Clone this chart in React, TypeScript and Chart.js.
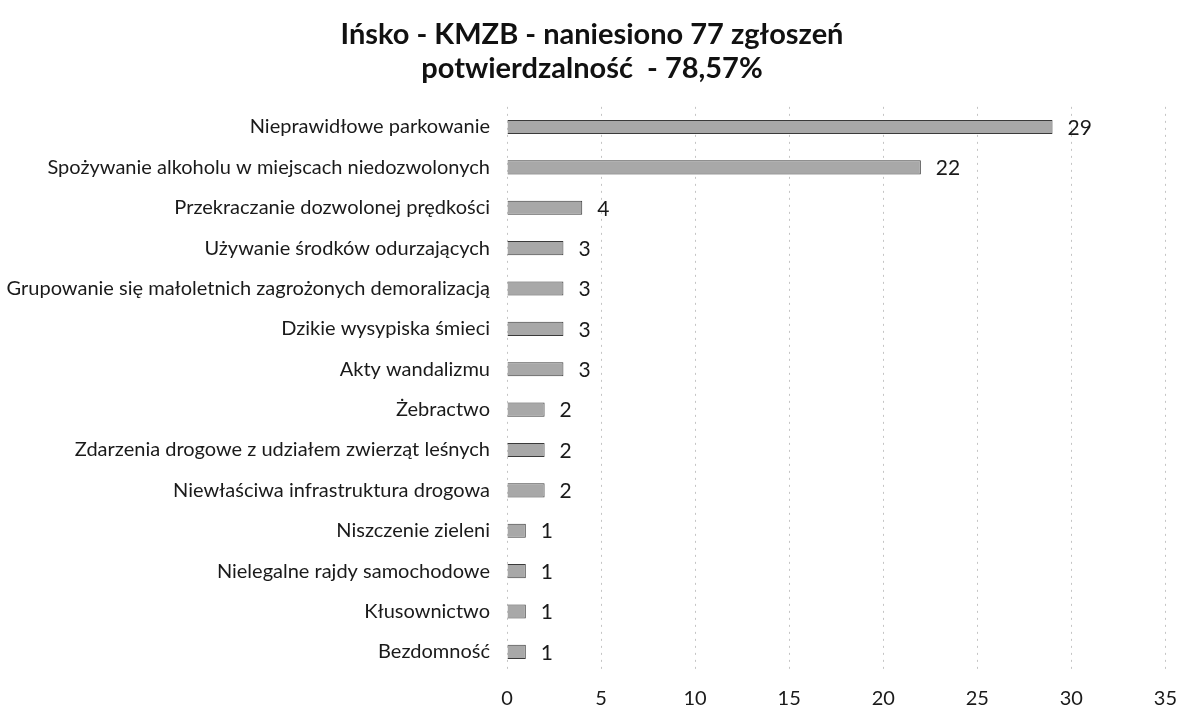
import React, { useEffect, useRef } from "react";
import { Chart, registerables } from "chart.js";

Chart.register(...registerables);

const categories = [
  "Nieprawidłowe parkowanie",
  "Spożywanie alkoholu w miejscach niedozwolonych",
  "Przekraczanie dozwolonej prędkości",
  "Używanie środków odurzających",
  "Grupowanie się małoletnich zagrożonych demoralizacją",
  "Dzikie wysypiska śmieci",
  "Akty wandalizmu",
  "Żebractwo",
  "Zdarzenia drogowe z udziałem zwierząt leśnych",
  "Niewłaściwa infrastruktura drogowa",
  "Niszczenie zieleni",
  "Nielegalne rajdy samochodowe",
  "Kłusownictwo",
  "Bezdomność",
];
const values = [29, 22, 4, 3, 3, 3, 3, 2, 2, 2, 1, 1, 1, 1];
const titleLines = ["Ińsko - KMZB - naniesiono 77 zgłoszeń", "potwierdzalność  - 78,57%"];

const FONT = "Lato, 'Open Sans', sans-serif";

const valueLabels = {
  id: "valueLabels",
  afterDatasetsDraw(chart: any) {
    const ctx = chart.ctx;
    const meta = chart.getDatasetMeta(0);
    ctx.save();
    ctx.font = `21px ${FONT}`;
    ctx.fillStyle = "#1a1a1a";
    ctx.textAlign = "left";
    ctx.textBaseline = "middle";
    meta.data.forEach((bar: any, i: number) => {
      ctx.fillText(String(values[i]), bar.x + 15, bar.y + 1);
    });
    ctx.restore();
  },
};

export default function App() {
  const ref = useRef<HTMLCanvasElement>(null);
  useEffect(() => {
    if (!ref.current) return;
    const chart = new Chart(ref.current, {
      type: "bar",
      data: {
        labels: categories,
        datasets: [
          {
            data: values,
            backgroundColor: "#a8a8a8",
            borderColor: "#3a3a3a",
            borderWidth: 1,
            barPercentage: 0.35,
            categoryPercentage: 1,
          },
        ],
      },
      options: {
        indexAxis: "y",
        animation: false,
        responsive: false,
        maintainAspectRatio: false,
        layout: { padding: { left: 0, right: 0, top: 0, bottom: 0 } },
        plugins: {
          legend: { display: false },
          tooltip: { enabled: false },
          title: {
            display: true,
            text: titleLines,
            color: "#111",
            font: { family: FONT, size: 29, weight: "bold", lineHeight: 1.17 },
            padding: { top: 18, bottom: 21 },
          },
        },
        scales: {
          x: {
            min: 0,
            max: 35,
            ticks: { stepSize: 5, color: "#1a1a1a", font: { family: FONT, size: 20 }, padding: 7 },
            grid: { color: "#c4c4c4", drawTicks: true, tickLength: 8, tickColor: "rgba(0,0,0,0)" },
            border: { display: false, dash: [2, 5] },
            afterFit(scale: any) {
              scale.height = 39;
            },
          },
          y: {
            ticks: { color: "#1a1a1a", font: { family: FONT, size: 20 }, padding: 17, autoSkip: false },
            grid: { display: false, drawTicks: false },
            border: { display: false },
            afterFit(scale: any) {
              scale.width = 507;
            },
          },
        },
      },
      plugins: [valueLabels],
    });
    return () => chart.destroy();
  }, []);
  return (
    <div style={{ position: "absolute", left: 0, top: 0, width: 1184, height: 711, background: "#fff" }}>
      <canvas ref={ref} width={1184} height={711} />
    </div>
  );
}
